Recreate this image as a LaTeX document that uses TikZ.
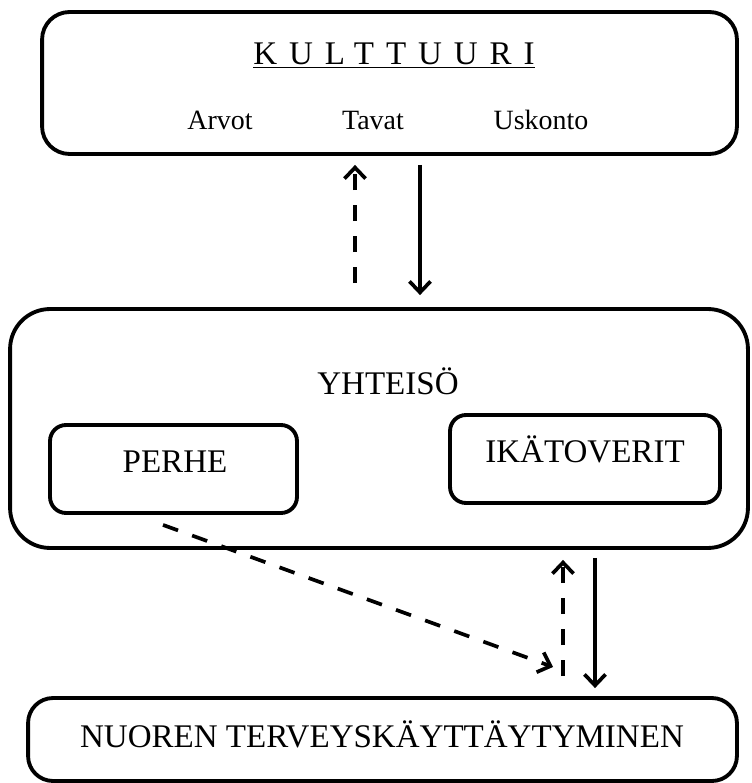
\documentclass[tikz,border=0pt]{standalone}
\usepackage{fontspec}
\setmainfont{Liberation Serif}
\usetikzlibrary{arrows.meta}
\tikzset{
  kbox/.style={draw, line width=2.2pt, inner sep=0pt},
  bigtext/.style={font=\fontsize{18.8}{22}\selectfont, inner sep=0pt, anchor=base},
  smalltext/.style={font=\fontsize{15.9}{19}\selectfont, inner sep=0pt, anchor=base},
  solidarrow/.style={line width=2.1pt, -{Straight Barb[length=0.22cm,width=0.42cm]}},
  dasharrow/.style={solidarrow, dash pattern=on 0.32cm off 0.3cm},
}

\begin{document}
\begin{tikzpicture}[x=0.02cm, y=-0.02cm]
		%%%%% START %%%%%
		\useasboundingbox (0,0) rectangle (751,783);
		
		% kulttuuri
		\node[kbox, rounded corners=0.55cm, minimum width=13.9cm, minimum height=2.84cm] (kult) at (389.5, 83) {};
		\node[bigtext] (kulttitle) at (394, 65) {\underline{\addfontfeature{LetterSpace=36}KULTTUURI}};
		\node[smalltext] (arvot) at (220, 130) {Arvot};
		\node[smalltext] (tavat) at (373, 130) {Tavat};
		\node[smalltext] (usk) at (541, 130) {Uskonto};
		
		% yhteiso
		\node[kbox, rounded corners=0.8cm, minimum width=14.76cm, minimum height=4.78cm] (yht) at (379, 428.5) {};
		\node[bigtext] (yhttitle) at (388, 394) {YHTEISÖ};
		\node[kbox, rounded corners=0.32cm, minimum width=4.94cm, minimum height=1.76cm] (perhe) at (173.5, 469) {};
		\node[bigtext] (perhetext) at (175, 472) {PERHE};
		\node[kbox, rounded corners=0.32cm, minimum width=5.4cm, minimum height=1.76cm] (ika) at (585, 459) {};
		\node[bigtext] (ikatext) at (585, 462) {IKÄTOVERIT};
		
		% nuoret
		\node[kbox, rounded corners=0.5cm, minimum width=14.18cm, minimum height=1.66cm] (nuor) at (382.5, 739.5) {};
		\node[bigtext] (nuortext) at (382, 747) {NUOREN TERVEYSKÄYTTÄYTYMINEN};
		
		\coordinate (upA) at (355, 0);
		\coordinate (downA) at (420, 0);
		\coordinate (upB) at (563, 0);
		\coordinate (downB) at (595, 0);
		\coordinate (diagend) at (553, 667);
		
		\draw[dasharrow, shorten <=0.48cm, shorten >=0.18cm] (yht.north -| upA) -- (kult.south -| upA);
		\draw[solidarrow, shorten <=0.18cm, shorten >=0.24cm] (kult.south -| downA) -- (yht.north -| downA);
		
		\draw[dasharrow] ([xshift=-0.21cm, yshift=-0.2cm]perhe.south) -- (diagend);
		\draw[dasharrow, shorten <=0.4cm, shorten >=0.2cm] (nuor.north -| upB) -- (yht.south -| upB);
		\draw[solidarrow, shorten <=0.16cm, shorten >=0.16cm] (yht.south -| downB) -- (nuor.north -| downB);
		
		%%%%% END %%%%%
\end{tikzpicture}
\end{document}
